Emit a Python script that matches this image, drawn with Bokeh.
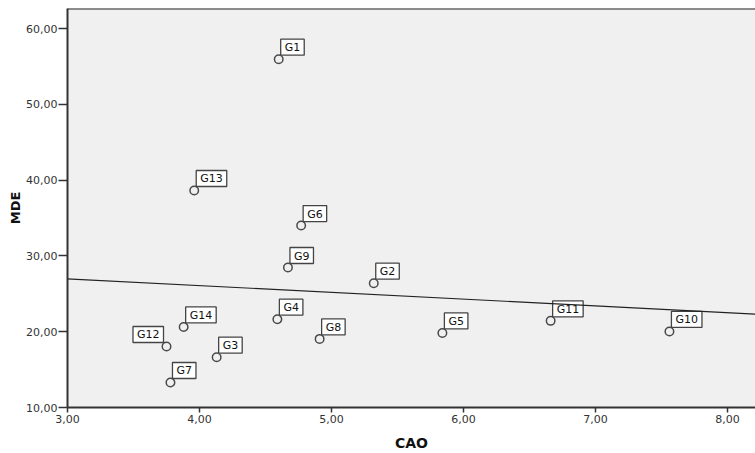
import numpy as np
from bokeh.plotting import figure
from bokeh.models import ColumnDataSource, FixedTicker, Span, Slope
from bokeh.core.properties import value
from bokeh.embed import file_html
from bokeh.resources import INLINE

groups = ["G1", "G2", "G3", "G4", "G5", "G6", "G7", "G8", "G9", "G10", "G11", "G13", "G14"]
cao = [4.60, 5.32, 4.13, 4.59, 5.84, 4.77, 3.78, 4.91, 4.67, 7.56, 6.66, 3.96, 3.88]
mde = [55.95, 26.40, 16.64, 21.65, 19.84, 34.00, 13.30, 19.05, 28.47, 20.03, 21.43, 38.63, 20.63]

left_groups = ["G12"]
left_cao = [3.75]
left_mde = [18.05]

x_ticks = [3, 4, 5, 6, 7, 8]
x_tick_labels = ["3,00", "4,00", "5,00", "6,00", "7,00", "8,00"]
y_ticks = [10, 20, 30, 40, 50, 60]
y_tick_labels = ["10,00", "20,00", "30,00", "40,00", "50,00", "60,00"]

all_x = np.array(cao + left_cao)
all_y = np.array(mde + left_mde)
slope, intercept = np.polyfit(all_x, all_y, 1)

FONT = "DejaVu Sans"
Y_TOP = 62.64

p = figure(width=755, height=453, output_backend="svg", toolbar_location=None,
           x_range=(3.0, 8.212), y_range=(10.0, Y_TOP),
           min_border_left=67, min_border_right=0, min_border_top=8, min_border_bottom=46)
p.background_fill_color = "#f0f0f0"
p.border_fill_color = "white"
p.outline_line_color = None
p.grid.visible = False

p.add_layout(Span(location=Y_TOP, dimension="width", line_color="#222222", line_width=2))
p.add_layout(Slope(gradient=slope, y_intercept=intercept, line_color="#222222", line_width=1.2))

src = ColumnDataSource(dict(x=cao, y=mde, name=groups))
src_l = ColumnDataSource(dict(x=left_cao, y=left_mde, name=left_groups))

for s in (src, src_l):
    p.scatter("x", "y", source=s, marker="circle", size=8.5, fill_color="#f0f0f0",
              line_color="#4a4a4a", line_width=1.5)

pad = dict(left=4, right=4, top=2, bottom=1)
common = dict(text="name", text_baseline="bottom", text_font=value(FONT),
              text_font_size="11px", text_color="#111111",
              background_fill_color="white", border_line_color="#444444",
              border_line_width=1.3, padding=pad)
p.text("x", "y", source=src, x_offset=2, y_offset=-4, text_align="left", **common)
p.text("x", "y", source=src_l, x_offset=-3, y_offset=-4, text_align="right", **common)

p.xaxis.ticker = FixedTicker(ticks=x_ticks)
p.yaxis.ticker = FixedTicker(ticks=y_ticks)
p.xaxis.major_label_overrides = dict(zip(x_ticks, x_tick_labels))
p.yaxis.major_label_overrides = dict(zip(y_ticks, y_tick_labels))

for ax in (p.xaxis, p.yaxis):
    ax.minor_tick_line_color = None
    ax.major_tick_in = 0
    ax.axis_line_color = "#333333"
    ax.axis_line_width = 2
    ax.major_tick_line_color = "#333333"
    ax.major_tick_line_width = 1.5
    ax.major_label_text_font = FONT
    ax.major_label_text_font_size = "11px"
    ax.major_label_text_color = "#333333"
    ax.axis_label_text_font = FONT
    ax.axis_label_text_font_style = "bold"
    ax.axis_label_text_color = "#111111"

p.xaxis.axis_label = "CAO"
p.yaxis.axis_label = "MDE"
p.xaxis.major_tick_out = 5
p.yaxis.major_tick_out = 9
p.xaxis.major_label_standoff = 2
p.yaxis.major_label_standoff = 1
p.xaxis.axis_label_text_font_size = "14px"
p.yaxis.axis_label_text_font_size = "13px"
p.xaxis.axis_label_standoff = 9
p.yaxis.axis_label_standoff = 0

open("out.html", "w").write(file_html(p, INLINE))
